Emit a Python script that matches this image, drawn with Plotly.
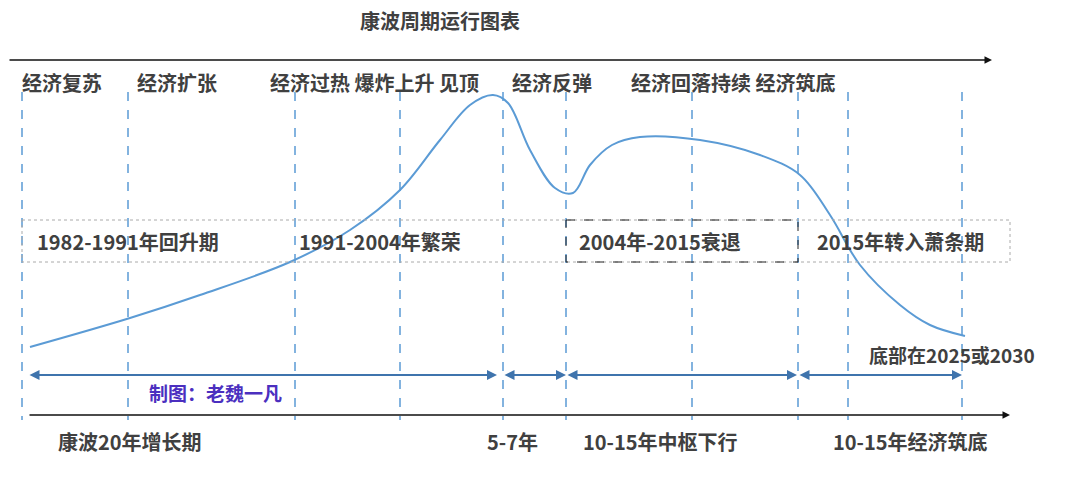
import plotly.graph_objects as go

# diagram laid out on a 1080x479 pixel grid (y grows downwards)
curve_x = [30, 130, 200, 290, 350, 400, 440, 470, 493, 508, 530, 555, 573, 590, 612, 640, 700, 760, 800, 830, 860, 900, 930, 965]
curve_y = [347, 318, 295, 262, 230, 190, 140, 105, 95, 103, 150, 188, 193, 165, 145, 137, 140, 155, 175, 215, 265, 305, 325, 336]

divider_x = [22, 128, 295, 400, 503, 566, 692, 798, 848, 962]

top_labels = ["经济复苏", "经济扩张", "经济过热 爆炸上升 见顶", "经济反弹", "经济回落持续 经济筑底"]
top_label_x = [62, 177, 374, 552, 733]

box_labels = ["1982-1991年回升期", "1991-2004年繁荣", "2004年-2015衰退", "2015年转入萧条期"]
box_label_x = [128, 380, 660, 900]

span_start = [28, 503, 566, 798]
span_end = [497, 566, 797, 962]

bottom_labels = ["康波20年增长期", "5-7年", "10-15年中枢下行", "10-15年经济筑底"]
bottom_label_x = [130, 512, 660, 910]

BLUE = "#5B9BD5"
DARK = "#404040"
FONT = "Noto Sans CJK SC"
FS = 20

fig = go.Figure()
fig.add_trace(go.Scatter(x=curve_x, y=curve_y, mode="lines",
                         line={"color": BLUE, "width": 2, "shape": "spline", "smoothing": 1.0},
                         hoverinfo="skip"))

shapes = []
for dx in divider_x:
    shapes.append(dict(type="line", x0=dx, x1=dx, y0=92, y1=420, xref="x", yref="y",
                       line={"color": BLUE, "width": 1.5, "dash": "dash"}))
shapes.append(dict(type="rect", x0=22, x1=1010, y0=220, y1=262, xref="x", yref="y",
                   line={"color": "#aaaaaa", "width": 1, "dash": "dot"}))
shapes.append(dict(type="rect", x0=566, x1=798, y0=220, y1=262, xref="x", yref="y",
                   line={"color": "#222222", "width": 1, "dash": "dash"}))

ann = []
ann.append(dict(x=440, y=20, text="<b>康波周期运行图表</b>", showarrow=False,
                font={"size": FS, "color": DARK, "family": FONT}))
# main arrows
for y, x0, x1 in [(60, 8, 992), (415, 28, 1010)]:
    ann.append(dict(x=x1, y=y, ax=x0, ay=y, axref="x", ayref="y", xref="x", yref="y",
                    text="", showarrow=True, arrowhead=2, arrowsize=1, arrowwidth=1.5,
                    arrowcolor="#111111"))
for s, e in zip(span_start, span_end):
    ann.append(dict(x=e, y=375, ax=s, ay=375, axref="x", ayref="y", xref="x", yref="y",
                    text="", showarrow=True, arrowhead=2, startarrowhead=2, arrowside="end+start",
                    arrowsize=1, arrowwidth=2, arrowcolor="#3f74ad"))
for t, x in zip(top_labels, top_label_x):
    ann.append(dict(x=x, y=82, text="<b>%s</b>" % t, showarrow=False,
                    font={"size": FS, "color": DARK, "family": FONT}))
for t, x in zip(box_labels, box_label_x):
    ann.append(dict(x=x, y=241, text="<b>%s</b>" % t, showarrow=False,
                    font={"size": FS, "color": DARK, "family": FONT}))
for t, x in zip(bottom_labels, bottom_label_x):
    ann.append(dict(x=x, y=441, text="<b>%s</b>" % t, showarrow=False,
                    font={"size": FS, "color": DARK, "family": FONT}))
ann.append(dict(x=952, y=354, text="<b>底部在2025或2030</b>", showarrow=False,
                font={"size": FS - 1, "color": DARK, "family": FONT}))
ann.append(dict(x=215, y=392, text="<b>制图：老魏一凡</b>", showarrow=False,
                font={"size": FS - 1, "color": "#4b2fbf", "family": FONT}))

fig.update_layout(
    width=1080, height=479, margin=dict(l=0, r=0, t=0, b=0),
    paper_bgcolor="white", plot_bgcolor="white", showlegend=False,
    xaxis=dict(range=[8, 1088], visible=False, fixedrange=True),
    yaxis=dict(range=[487, 8], visible=False, fixedrange=True),
    shapes=shapes, annotations=ann,
)

fig.write_html("out.html")
